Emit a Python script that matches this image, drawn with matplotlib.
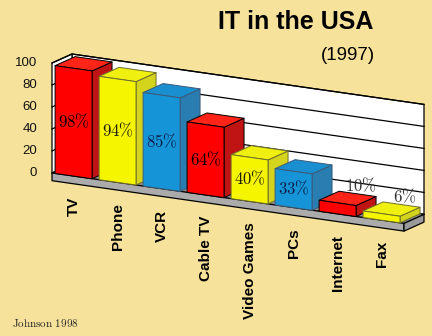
import matplotlib.pyplot as plt
from matplotlib.patches import Polygon

categories = ['TV', 'Phone', 'VCR', 'Cable TV', 'Video Games', 'PCs', 'Internet', 'Fax']
percent = [98, 94, 85, 64, 40, 33, 10, 6]
bar_colors = ['red', 'yellow', 'blue', 'red', 'yellow', 'blue', 'red', 'yellow']
y_ticks = [0, 20, 40, 60, 80, 100]

# front, top, side, edge, label
palette = {
    'red': ('#ff0000', '#ff2418', '#c01414', 'black', 'black'),
    'yellow': ('#f5f500', '#efef10', '#d4d41c', '#6e6e2a', '#1e1e00'),
    'blue': ('#1595d8', '#1a8fd0', '#2a7db0', '#3c5a78', '#0c1e4a'),
}

# oblique projection in image pixels
X0, Y0 = 52, 173
DX, DY = 44, 6.3     # one category step along the floor
K = 1.1              # pixels per percent
ZX, ZY = 20, -9      # full depth


def proj(i, v, z):
    return (X0 + i * DX + z * ZX, Y0 + i * DY - v * K + z * ZY)


zo = [1]


def face(ax, pts, fc, ec='black', lw=0.7):
    zo[0] += 0.01
    ax.add_patch(Polygon([proj(*p) for p in pts], closed=True, facecolor=fc,
                         edgecolor=ec, linewidth=lw, joinstyle='round', zorder=zo[0]))


fig = plt.figure(figsize=(4.32, 3.36), dpi=100, facecolor='#f7e29b')
ax = fig.add_axes([0, 0, 1, 1])
ax.set_xlim(0, 432)
ax.set_ylim(336, 0)
ax.axis('off')

n = len(categories)
top = y_ticks[-1]

# walls
face(ax, [(0, 0, 1), (n, 0, 1), (n, top, 1), (0, top, 1)], 'white', lw=0.9)
face(ax, [(0, 0, 0), (0, 0, 1), (0, top, 1), (0, top, 0)], 'white', lw=0.9)
for t in y_ticks:
    pts = [proj(0, t, 0), proj(0, t, 1), proj(n, t, 1)]
    ax.plot([p[0] for p in pts], [p[1] for p in pts], color='black', lw=0.9, zorder=1.05)
    x, y = proj(0, t, 0)
    ax.text(x - 15, y, str(t), ha='right', va='center', fontsize=9.5,
            family='Liberation Sans', color='#111111')
zo[0] = 1.1

# floor slab
th = -7
face(ax, [(0, 0, 0), (n, 0, 0), (n, 0, 1), (0, 0, 1)], '#8e8e8e', lw=0.6)
face(ax, [(0, 0, 0), (n, 0, 0), (n, th, 0), (0, th, 0)], '#ababab', lw=0.9)
face(ax, [(n, 0, 0), (n, 0, 1), (n, th, 1), (n, th, 0)], '#9a9a9a', lw=0.9)

# bars
for k, (v, c) in enumerate(zip(percent, bar_colors)):
    fc, tc, sc, ec, lc = palette[c]
    l, r = k + 0.07, k + 0.91
    face(ax, [(r, 0, 0), (r, 0, 1), (r, v, 1), (r, v, 0)], sc, ec)
    face(ax, [(l, v, 0), (r, v, 0), (r, v, 1), (l, v, 1)], tc, ec)
    face(ax, [(l, 0, 0), (r, 0, 0), (r, v, 0), (l, v, 0)], fc, ec)
    if v >= 20:
        x, y = proj(k + 0.49, v / 2, 0)
        ax.text(x, y, r'$%d\%%$' % v, ha='center', va='center', fontsize=12,
                math_fontfamily='cm', color=lc, zorder=5)
    else:
        x, y = proj(k + 0.49, v, 1)
        ax.text(x + 3, y - 8, r'$%d\%%$' % v, ha='center', va='center', fontsize=12,
                math_fontfamily='cm', color='#333333', zorder=5)
    x, y = proj(k + 0.49, 0, 0)
    ax.text(x, y + 21, categories[k], rotation=90, ha='center', va='top',
            fontsize=11, fontweight='bold', family='Liberation Sans', color='black')

ax.text(296, 22, 'IT in the USA', ha='center', va='center', fontsize=18,
        fontweight='bold', family='Liberation Sans')
ax.text(375, 55, '(1997)', ha='right', va='center', fontsize=13.5,
        family='Liberation Sans')
ax.text(12, 323, r'$\mathrm{Johnson\ 1998}$', ha='left', va='center', fontsize=8,
        math_fontfamily='cm', color='#222222')

fig.savefig('out.png', dpi=100, facecolor=fig.get_facecolor())
